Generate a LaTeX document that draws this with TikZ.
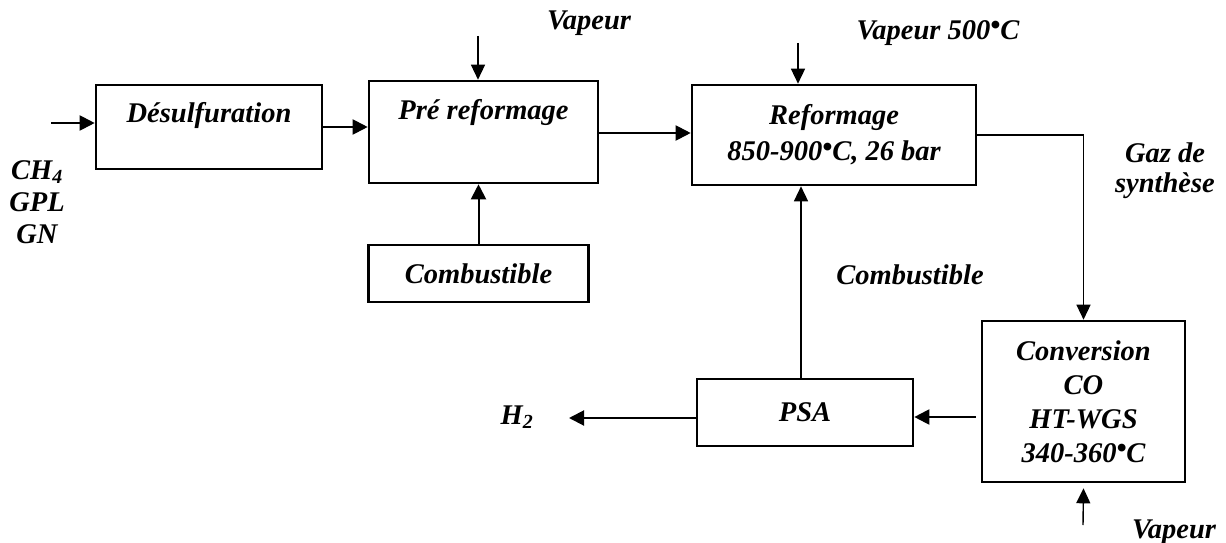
\documentclass[tikz,border=0pt]{standalone}
\usepackage{fontspec}
\setmainfont{Liberation Serif}
\usetikzlibrary{arrows.meta, positioning}
\newcommand{\procfont}[1][34pt]{\bfseries\itshape\fontsize{28.5pt}{#1}\selectfont}
\newcommand{\degdot}{\raisebox{0.16em}{•}}
\tikzset{
  procbox/.style={rectangle, draw=black, line width=2.6pt, font=\procfont,
                  align=center, inner sep=0pt},
  lbl/.style={font=\procfont, align=center, inner sep=0pt},
  arrow/.style={-{Triangle[length=15pt, width=15pt]}, line width=2pt},
  thinarrow/.style={-{Triangle[length=15pt, width=14pt]}, line width=1.4pt},
}
\begin{document}
\begin{tikzpicture}[x=1pt, y=-1pt]
  \useasboundingbox (0,0) rectangle (1226,543);

  % process units
  \node[procbox, minimum width=226pt, minimum height=84pt, text depth=30pt] (desulf) at (209,127) {Désulfuration};
  \node[procbox, minimum width=229pt, minimum height=102pt, text depth=46pt] (pre) at (483.5,132) {Pré reformage};
  \node[procbox, minimum width=220pt, minimum height=57pt] (comb) at (478.5,273.5) {Combustible};
  \node[procbox, minimum width=284pt, minimum height=100pt, font={\procfont[36pt]}] (reform) at (834,135) {Reformage\\850-900\degdot C, 26 bar};
  \node[procbox, minimum width=203pt, minimum height=161pt] (conv) at (1083.5,401.5) {Conversion\\CO\\HT-WGS\\340-360\degdot C};
  \node[procbox, minimum width=216pt, minimum height=67pt] (psa) at (805,412.5) {PSA};

  % stream labels
  \node[lbl, font={\procfont[32pt]}] (feed) at (37,202) {CH\textsubscript{4}\\GPL\\GN};
  \node[lbl] (vap1) at (589,23) {Vapeur};
  \node[lbl] (vap2) at (938,33) {Vapeur 500\degdot C};
  \node[lbl, font={\procfont[30pt]}] (gaz) at (1165,171) {Gaz de\\synthèse};
  \node[lbl] (comblab) at (910,275) {Combustible};
  \node[lbl] (h2) at (517,417) {H\textsubscript{2}};
  \node[lbl] (vap3) at (1174,532) {Vapeur};

  % free ends
  \coordinate (feedin) at (51,123);
  \coordinate (vap1in) at (478,36);
  \coordinate (vap2in) at (798,43);
  \coordinate (vap3in) at (1083,525);
  \coordinate (h2out) at (569,418);

  \draw[arrow] (feedin) -- (feedin -| desulf.west);
  \draw[arrow] (desulf.east) -- (desulf.east -| pre.west);
  \draw[thinarrow] (vap1in) -- (vap1in |- pre.north);
  \draw[arrow] (comb.north) -- (comb.north |- pre.south);
  \draw[arrow] ([yshift=-1pt]pre.east) -- ([yshift=-1pt]pre.east -| reform.west);
  \draw[thinarrow] (vap2in) -- (vap2in |- reform.north);
  \draw[thinarrow] (reform.east) -| (conv.north);
  \draw[thinarrow] (vap3in) -- ([yshift=-5pt]conv.south);
  \draw[arrow] ([xshift=-5pt, yshift=-15.5pt]conv.west) -- ([yshift=-15.5pt]conv.west -| psa.east);
  \draw[thinarrow] ([xshift=-4pt]psa.north) -- ([xshift=-4pt]psa.north |- reform.south);
  \draw[arrow] (h2out -| psa.west) -- (h2out);
\end{tikzpicture}
\end{document}
